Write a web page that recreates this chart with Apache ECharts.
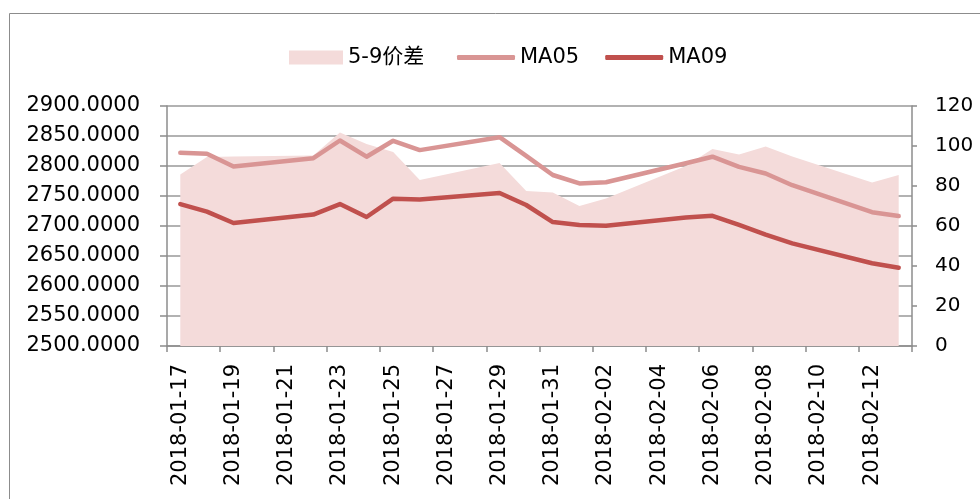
<!DOCTYPE html>
<html>
<head>
<meta charset="utf-8">
<script src="https://cdn.jsdelivr.net/npm/echarts@6/dist/echarts.min.js"></script>
<style>
html,body{margin:0;padding:0;background:#fff;}
#chart{width:980px;height:499px;}
</style>
</head>
<body>
<div id="chart"></div>
<script>
// Calendar days shown on the category axis (tick labels every other day)
const categories = [
  '2018-01-17','2018-01-18','2018-01-19','2018-01-20','2018-01-21','2018-01-22','2018-01-23',
  '2018-01-24','2018-01-25','2018-01-26','2018-01-27','2018-01-28','2018-01-29','2018-01-30',
  '2018-01-31','2018-02-01','2018-02-02','2018-02-03','2018-02-04','2018-02-05','2018-02-06',
  '2018-02-07','2018-02-08','2018-02-09','2018-02-10','2018-02-11','2018-02-12','2018-02-13'
];
// Trading days with data
const dates = [
  '2018-01-17','2018-01-18','2018-01-19','2018-01-22','2018-01-23','2018-01-24','2018-01-25',
  '2018-01-26','2018-01-29','2018-01-30','2018-01-31','2018-02-01','2018-02-02','2018-02-05',
  '2018-02-06','2018-02-07','2018-02-08','2018-02-09','2018-02-12','2018-02-13'
];
// 5-9 spread (right axis)
const spread = [85.8, 94.5, 94.7, 95.3, 106.8, 101, 97, 83, 91.5, 77.5, 76.7, 70, 73.8, 90, 98.5, 95.8, 99.7, 94.7, 81.8, 85.5];
// MA05 (left axis)
const ma05 = [2822, 2820.5, 2799, 2813, 2842.5, 2815.5, 2842, 2826.5, 2848, 2817, 2785, 2771, 2773, 2804.5, 2815.5, 2798.5, 2787.5, 2768, 2723, 2716.5];
// MA09 (left axis)
const ma09 = [2736.5, 2724, 2705, 2719, 2736.5, 2715, 2745.5, 2744, 2755, 2735, 2706.5, 2701.5, 2700.5, 2714, 2717, 2701.7, 2685.5, 2671, 2638, 2630.5];
const leftTicks = {min: 2500, max: 2900, interval: 50};
const rightTicks = {min: 0, max: 120, interval: 20};

function toSeries(vals) {
  const map = {};
  dates.forEach((d, i) => { map[d] = vals[i]; });
  return categories.map(c => (c in map ? map[c] : null));
}

const FONT = 'DejaVu Sans, Noto Sans CJK SC, sans-serif';
const legendText = {fontFamily: FONT, fontSize: 21, color: '#000'};
const chart = echarts.init(document.getElementById('chart'), null, {renderer: 'canvas'});
chart.setOption({
  animation: false,
  backgroundColor: '#ffffff',
  graphic: [{
    type: 'rect', z: -10, silent: true,
    shape: {x: 9.5, y: 13.5, width: 1000, height: 600},
    style: {fill: 'none', stroke: '#8c8c8c', lineWidth: 1}
  }],
  legend: [{
    left: 284, top: 42,
    itemWidth: 54, itemHeight: 14,
    textStyle: legendText,
    data: [{name: '5-9价差', icon: 'rect'}]
  }, {
    left: 452, top: 42,
    itemWidth: 58, itemHeight: 5, itemGap: 26,
    icon: 'roundRect',
    textStyle: legendText,
    data: ['MA05', 'MA09']
  }],
  grid: {left: 167, right: 68, top: 106, bottom: 153, containLabel: false},
  xAxis: {
    type: 'category',
    data: categories,
    boundaryGap: true,
    axisLine: {lineStyle: {color: '#8c8c8c', width: 1.5}},
    axisTick: {show: true, interval: 1, length: 6, lineStyle: {color: '#8c8c8c', width: 1.5}},
    axisLabel: {interval: 1, rotate: 90, margin: 18, fontFamily: FONT, fontSize: 21, color: '#000'},
    splitLine: {show: false}
  },
  yAxis: [{
    type: 'value',
    min: leftTicks.min, max: leftTicks.max, interval: leftTicks.interval,
    position: 'left',
    axisLine: {show: true, lineStyle: {color: '#8c8c8c', width: 1.5}},
    axisTick: {show: true, length: 7, lineStyle: {color: '#8c8c8c', width: 1.5}},
    axisLabel: {margin: 27, fontFamily: FONT, fontSize: 21, color: '#000',
      formatter: v => v.toFixed(4)},
    splitLine: {show: true, lineStyle: {color: '#999999', width: 1.5}}
  }, {
    type: 'value',
    min: rightTicks.min, max: rightTicks.max, interval: rightTicks.interval,
    position: 'right',
    axisLine: {show: true, lineStyle: {color: '#8c8c8c', width: 1.5}},
    axisTick: {show: true, length: 5, lineStyle: {color: '#8c8c8c', width: 1.5}},
    axisLabel: {margin: 23, fontFamily: FONT, fontSize: 20, color: '#000'},
    splitLine: {show: false}
  }],
  series: [{
    name: '5-9价差',
    type: 'line',
    yAxisIndex: 1,
    data: toSeries(spread),
    connectNulls: true,
    symbol: 'none',
    itemStyle: {color: '#F4DBDA'},
    lineStyle: {width: 0, color: '#F4DBDA'},
    areaStyle: {color: '#F4DBDA', opacity: 1},
    z: 1
  }, {
    name: 'MA05',
    type: 'line',
    yAxisIndex: 0,
    data: toSeries(ma05),
    connectNulls: true,
    symbol: 'none',
    itemStyle: {color: '#D99594'},
    lineStyle: {width: 4.5, color: '#D99594', cap: 'round', join: 'round'},
    z: 3
  }, {
    name: 'MA09',
    type: 'line',
    yAxisIndex: 0,
    data: toSeries(ma09),
    connectNulls: true,
    symbol: 'none',
    itemStyle: {color: '#C0504D'},
    lineStyle: {width: 4.5, color: '#C0504D', cap: 'round', join: 'round'},
    z: 4
  }]
});
</script>
</body>
</html>
